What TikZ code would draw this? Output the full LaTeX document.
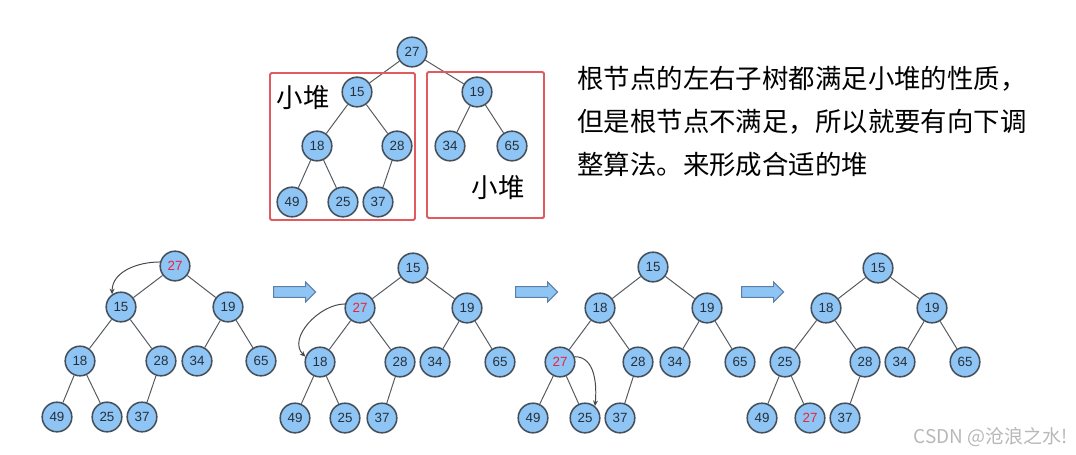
\documentclass[tikz,border=0pt]{standalone}
\usepackage{fontspec}
\setmainfont{Noto Sans CJK SC}
\setsansfont{Liberation Sans}
\usepackage{tikz}
\usetikzlibrary{arrows.meta,shapes.arrows}
\usepackage{xcolor}
\definecolor{nodeblue}{HTML}{8EC5F5}
\definecolor{nodeline}{HTML}{46505A}
\definecolor{digitgray}{HTML}{26303A}
\definecolor{linkgray}{HTML}{555B60}
\definecolor{hotred}{HTML}{E8233A}
\definecolor{boxred}{HTML}{E05A5E}
\definecolor{arrowline}{HTML}{5B7FA6}

\begin{document}
\begin{tikzpicture}[
  x=0.025cm, y=-0.025cm,
  heapnode/.style={circle, draw=nodeline, fill=nodeblue, line width=1.1pt,
                   minimum size=0.74cm, inner sep=0pt, text=digitgray,
                   font=\sffamily\fontsize{9.5}{9.5}\selectfont},
  hot/.style={text=hotred},
  every edge/.style={draw=linkgray, line width=0.7pt},
  heapbox/.style={draw=boxred, line width=1.4pt, rounded corners=1pt},
  tag/.style={font=\fontsize{18.8}{18.8}\selectfont, inner sep=0pt},
  note/.style={font=\fontsize{18.8}{30.5}\selectfont, align=left, inner sep=0pt},
  sink/.style={draw=linkgray!80!black, line width=0.7pt,
               -{Stealth[length=4pt,width=3.5pt]}},
  stepper/.style={single arrow, draw=arrowline, fill=nodeblue, line width=0.7pt,
                  minimum height=1.05cm, inner sep=0pt,
                  text height=0.12cm, text depth=0.12cm,
                  single arrow head extend=0.12cm},
  watermark/.style={font=\fontsize{13.5}{13.5}\selectfont, text=black!28, inner sep=0pt},
]
  \useasboundingbox (0,0) rectangle (1076,454);

  % Heap before adjusting
  \node[heapnode] (h1)  at (412,52)  {27};
  \node[heapnode] (h2)  at (357,92)  {15};
  \node[heapnode] (h3)  at (477,92)  {19};
  \node[heapnode] (h4)  at (317,146) {18};
  \node[heapnode] (h5)  at (397,146) {28};
  \node[heapnode] (h6)  at (450,146) {34};
  \node[heapnode] (h7)  at (512,146) {65};
  \node[heapnode] (h8)  at (292,202) {49};
  \node[heapnode] (h9)  at (343,202) {25};
  \node[heapnode] (h10) at (378,202) {37};
  \path (h1) edge (h2) edge (h3);
  \path (h2) edge (h4) edge (h5);
  \path (h3) edge (h6) edge (h7);
  \path (h4) edge (h8) edge (h9);
  \path (h5) edge (h10);

  % Sub-heaps
  \draw[heapbox] (270,73) rectangle (415,220);
  \draw[heapbox] (427,72) rectangle (544,218);
  \node[tag] (lefttag)  at (303,98)  {小堆};
  \node[tag] (righttag) at (498,188) {小堆};

  % Explanation
  \node[note, anchor=north west] (desc) at (577,66)
    {根节点的左右子树都满足小堆的性质，\\
     但是根节点不满足，所以就要有向下调\\
     整算法。来形成合适的堆};

  % Step 1
  \begin{scope}[shift={(175,266)}]
    \node[heapnode, hot] (a1)  at (0,0)     {27};
    \node[heapnode] (a2)  at (-54,41)  {15};
    \node[heapnode] (a3)  at (53,41)   {19};
    \node[heapnode] (a4)  at (-95,95)  {18};
    \node[heapnode] (a5)  at (-14,95)  {28};
    \node[heapnode] (a6)  at (22,95)   {34};
    \node[heapnode] (a7)  at (86,95)   {65};
    \node[heapnode] (a8)  at (-118,151) {49};
    \node[heapnode] (a9)  at (-68,151) {25};
    \node[heapnode] (a10) at (-33,151) {37};
  \end{scope}
  \path (a1) edge (a2) edge (a3);
  \path (a2) edge (a4) edge (a5);
  \path (a3) edge (a6) edge (a7);
  \path (a4) edge (a8) edge (a9);
  \path (a5) edge (a10);
  \draw[sink] (a1.165) to[out=180, in=90] (a2.125);

  \node[stepper] (go1) at (292,292) {};

  % Step 2
  \begin{scope}[shift={(413,268)}]
    \node[heapnode] (b1)  at (0,0)     {15};
    \node[heapnode, hot] (b2)  at (-53,40)  {27};
    \node[heapnode] (b3)  at (54,40)   {19};
    \node[heapnode] (b4)  at (-93,94)  {18};
    \node[heapnode] (b5)  at (-13,94)  {28};
    \node[heapnode] (b6)  at (22,94)   {34};
    \node[heapnode] (b7)  at (87,94)   {65};
    \node[heapnode] (b8)  at (-118,150) {49};
    \node[heapnode] (b9)  at (-68,150) {25};
    \node[heapnode] (b10) at (-31,150) {37};
  \end{scope}
  \path (b1) edge (b2) edge (b3);
  \path (b2) edge (b4) edge (b5);
  \path (b3) edge (b6) edge (b7);
  \path (b4) edge (b8) edge (b9);
  \path (b5) edge (b10);
  \draw[sink] (b2.165) to[out=180, in=135] (b4.160);

  \node[stepper] (go2) at (534,292) {};

  % Step 3
  \begin{scope}[shift={(653,267)}]
    \node[heapnode] (c1)  at (0,0)     {15};
    \node[heapnode] (c2)  at (-53,41)  {18};
    \node[heapnode] (c3)  at (54,41)   {19};
    \node[heapnode, hot] (c4)  at (-93,95)  {27};
    \node[heapnode] (c5)  at (-15,95)  {28};
    \node[heapnode] (c6)  at (22,95)   {34};
    \node[heapnode] (c7)  at (87,95)   {65};
    \node[heapnode] (c8)  at (-120,151) {49};
    \node[heapnode] (c9)  at (-68,151) {25};
    \node[heapnode] (c10) at (-33,151) {37};
  \end{scope}
  \path (c1) edge (c2) edge (c3);
  \path (c2) edge (c4) edge (c5);
  \path (c3) edge (c6) edge (c7);
  \path (c4) edge (c8) edge (c9);
  \path (c5) edge (c10);
  \draw[sink] (c4.20) to[out=0, in=85] (c9.50);

  \node[stepper] (go3) at (760,292) {};

  % Step 4
  \begin{scope}[shift={(878,268)}]
    \node[heapnode] (d1)  at (0,0)     {15};
    \node[heapnode] (d2)  at (-52,40)  {18};
    \node[heapnode] (d3)  at (54,40)   {19};
    \node[heapnode] (d4)  at (-93,94)  {25};
    \node[heapnode] (d5)  at (-13,94)  {28};
    \node[heapnode] (d6)  at (22,94)   {34};
    \node[heapnode] (d7)  at (87,94)   {65};
    \node[heapnode] (d8)  at (-116,150) {49};
    \node[heapnode, hot] (d9)  at (-68,150) {27};
    \node[heapnode] (d10) at (-33,150) {37};
  \end{scope}
  \path (d1) edge (d2) edge (d3);
  \path (d2) edge (d4) edge (d5);
  \path (d3) edge (d6) edge (d7);
  \path (d4) edge (d8) edge (d9);
  \path (d5) edge (d10);

  \node[watermark, anchor=east] (wm) at (1068,437) {CSDN @沧浪之水!};
\end{tikzpicture}
\end{document}
